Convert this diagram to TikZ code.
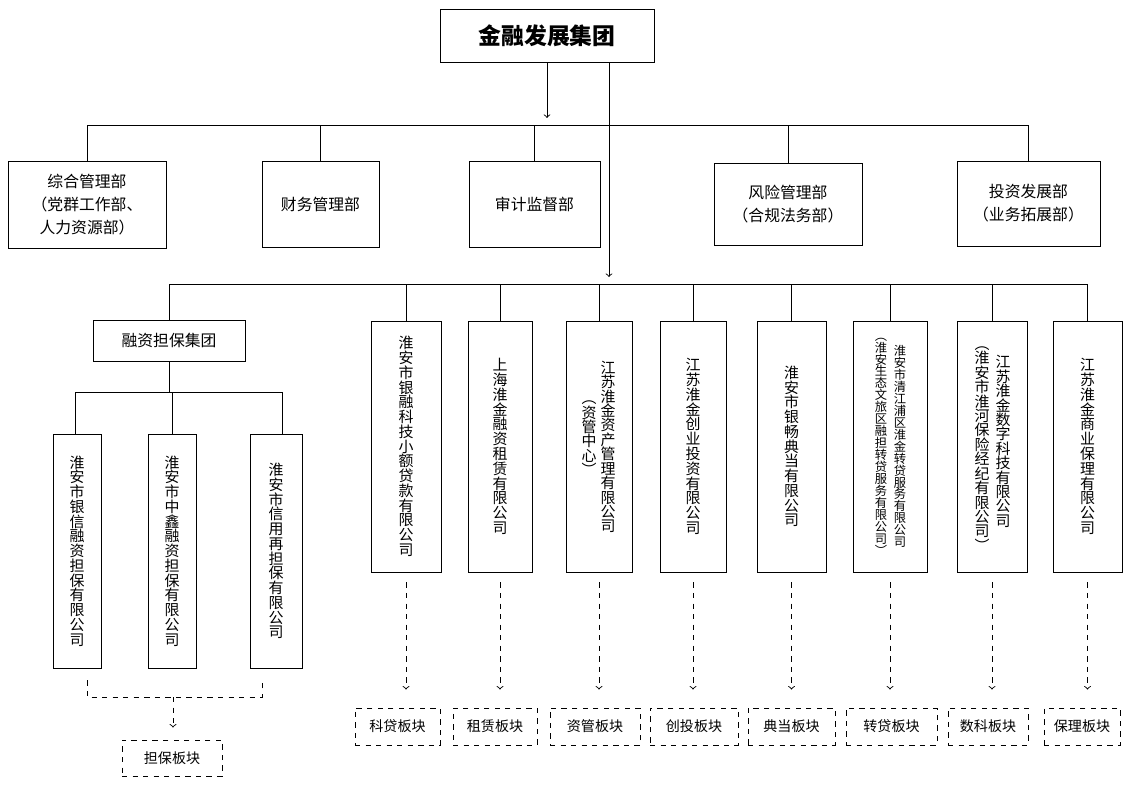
\documentclass[tikz,border=0pt]{standalone}
\usepackage{fontspec}
\setmainfont{Noto Sans CJK SC}
\usetikzlibrary{positioning}

% stack the characters of a name one under the other
\def\vstack#1#2\relax{#1\ifx\relax#2\relax\else\\\vstack#2\relax\fi}
\def\tightlines{\lineskiplimit=-6pt\relax}

\tikzset{
	dept/.style={draw, align=center, font=\fontsize{9}{13}\selectfont},
	firm/.style={draw, minimum height=251*0.02cm, align=center, font=\fontsize{8.5}{8.4}\selectfont\tightlines},
	vtxt/.style={align=center, inner sep=0pt, font=\fontsize{8.5}{8.2}\selectfont\tightlines},
	tight/.style={font=\fontsize{7}{6.8}\selectfont\tightlines},
	plate/.style={draw, dashed, minimum height=37*0.02cm, font=\fontsize{8}{10}\selectfont},
	link/.style={dashed, ->, shorten >=0.36cm, shorten <=0.2cm}
}

\begin{document}
\begin{tikzpicture}[x=0.02cm, y=-0.02cm, line width=0.5pt]
		\useasboundingbox (0,0) rectangle (1132,784);
		
		% Head and departments
		\node[draw, minimum width=214*0.02cm, minimum height=53*0.02cm, font=\fontsize{13}{15}\selectfont\bfseries] (top) at (547,36) {金融发展集团};
		\node[dept, minimum width=158*0.02cm, minimum height=87*0.02cm] (zh) at (87,204.5) {综合管理部\\（党群工作部、\\人力资源部）};
		\node[dept, minimum width=117*0.02cm, minimum height=86*0.02cm] (cw) at (320.5,204) {财务管理部};
		\node[dept, minimum width=131*0.02cm, minimum height=86*0.02cm] (sj) at (534.5,204) {审计监督部};
		\node[dept, minimum width=148*0.02cm, minimum height=82*0.02cm] (fx) at (788,204) {风险管理部\\（合规法务部）};
		\node[dept, minimum width=143*0.02cm, minimum height=85*0.02cm] (tz) at (1028.5,203.5) {投资发展部\\（业务拓展部）};
		
		\coordinate (bus1) at (0,125);
		\coordinate (bus2) at (0,284);
		\coordinate (bus3) at (0,392);
		\coordinate (tap) at (609,277);
		
		\draw[->] (top.south) -- ([yshift=4pt]top.south |- bus1);
		\draw[->] (top.south -| tap) -- (tap);
		\draw (zh.north |- bus1) -- (tz.north |- bus1);
		\foreach \n in {zh,cw,sj,fx,tz}
			\draw (\n.north) -- (\n.north |- bus1);
		
		% Companies
		\node[dept, minimum width=152*0.02cm, minimum height=41*0.02cm] (rz) at (169,340.5) {融资担保集团};
		\node[firm, minimum width=70*0.02cm] (kj) at (406,446.5) {\vstack 淮安市银融科技小额贷款有限公司\relax};
		\node[firm, minimum width=64*0.02cm] (zl) at (500,446.5) {\vstack 上海淮金融资租赁有限公司\relax};
		\node[firm, minimum width=66*0.02cm] (zc) at (599,446.5) {};
		\node[firm, minimum width=66*0.02cm] (ct) at (693,446.5) {\vstack 江苏淮金创业投资有限公司\relax};
		\node[firm, minimum width=69*0.02cm] (dd) at (791.5,446.5) {\vstack 淮安市银畅典当有限公司\relax};
		\node[firm, minimum width=74*0.02cm] (zd) at (890,446.5) {};
		\node[firm, minimum width=70*0.02cm] (sk) at (992,446.5) {};
		\node[firm, minimum width=69*0.02cm] (bl) at (1087.5,446.5) {\vstack 江苏淮金商业保理有限公司\relax};
		
		% Two-column names
		\node[vtxt, anchor=north] (zcA) at ([xshift=0.18cm, yshift=-0.8cm]zc.north) {\vstack 江苏淮金资产管理有限公司\relax};
		\node[vtxt, anchor=north] (zcB) at ([xshift=-0.2cm, yshift=-1.6cm]zc.north) {\vstack ︵资管中心︶\relax};
		\node[vtxt, tight] (zdA) at ([xshift=0.2cm]zd.center) {\vstack 淮安市清江浦区淮金转贷服务有限公司\relax};
		\node[vtxt, tight] (zdB) at ([xshift=-0.18cm]zd.center) {\vstack ︵淮安生态文旅区融担转贷服务有限公司︶\relax};
		\node[vtxt] (skA) at ([xshift=0.22cm, yshift=0.1cm]sk.center) {\vstack 江苏淮金数字科技有限公司\relax};
		\node[vtxt] (skB) at ([xshift=-0.2cm, yshift=-0.05cm]sk.center) {\vstack ︵淮安市淮河保险经纪有限公司︶\relax};
		
		\draw (rz.north |- bus2) -- (bl.north |- bus2);
		\foreach \n in {rz,kj,zl,zc,ct,dd,zd,sk,bl}
			\draw (\n.north) -- (\n.north |- bus2);
		
		% Guarantee group
		\node[firm, minimum width=48*0.02cm, minimum height=234*0.02cm] (s1) at (77,551) {\vstack 淮安市银信融资担保有限公司\relax};
		\node[firm, minimum width=48*0.02cm, minimum height=234*0.02cm] (s2) at (172,551) {\vstack 淮安市中鑫融资担保有限公司\relax};
		\node[firm, minimum width=52*0.02cm, minimum height=234*0.02cm] (s3) at (276,551) {\vstack 淮安市信用再担保有限公司\relax};
		\draw (rz.south) -- (rz.south |- bus3);
		\draw ([xshift=-0.04cm]s1.north |- bus3) -- ([xshift=0.12cm]s3.north |- bus3);
		\draw ([xshift=-0.04cm]s1.north) -- ([xshift=-0.04cm]s1.north |- bus3);
		\draw (s2.north) -- (s2.north |- bus3);
		\draw ([xshift=0.12cm]s3.north) -- ([xshift=0.12cm]s3.north |- bus3);
		
		% Business plates
		\node[plate, minimum width=100*0.02cm, minimum height=36*0.02cm] (db) at (172,758) {担保板块};
		\coordinate (j1) at (87,697);
		\coordinate (j2) at (262,697);
		\coordinate (jm) at (173,697);
		\draw[dashed] (j1 |- s1.south) ++(0,12) -- (j1) -- (j2) -- ++(0,-17);
		\draw[dashed, ->, shorten >=0.24cm] (jm) -- (jm |- db.north);
		
		\node[plate, minimum width=85*0.02cm] (pkj) at (397.5,726.5) {科贷板块};
		\node[plate, minimum width=84*0.02cm] (pzl) at (495,726.5) {租赁板块};
		\node[plate, minimum width=90*0.02cm] (pzc) at (595,726.5) {资管板块};
		\node[plate, minimum width=88*0.02cm] (pct) at (694,726.5) {创投板块};
		\node[plate, minimum width=87*0.02cm] (pdd) at (791.5,726.5) {典当板块};
		\node[plate, minimum width=91*0.02cm] (pzd) at (891.5,726.5) {转贷板块};
		\node[plate, minimum width=80*0.02cm] (psk) at (988,726.5) {数科板块};
		\node[plate, minimum width=76*0.02cm] (pbl) at (1082,726.5) {保理板块};
		\foreach \n in {kj,zl,zc,ct,dd,zd,sk,bl}
			\draw[link] (\n.south) -- (\n.south |- p\n.north);
	\end{tikzpicture}
\end{document}
